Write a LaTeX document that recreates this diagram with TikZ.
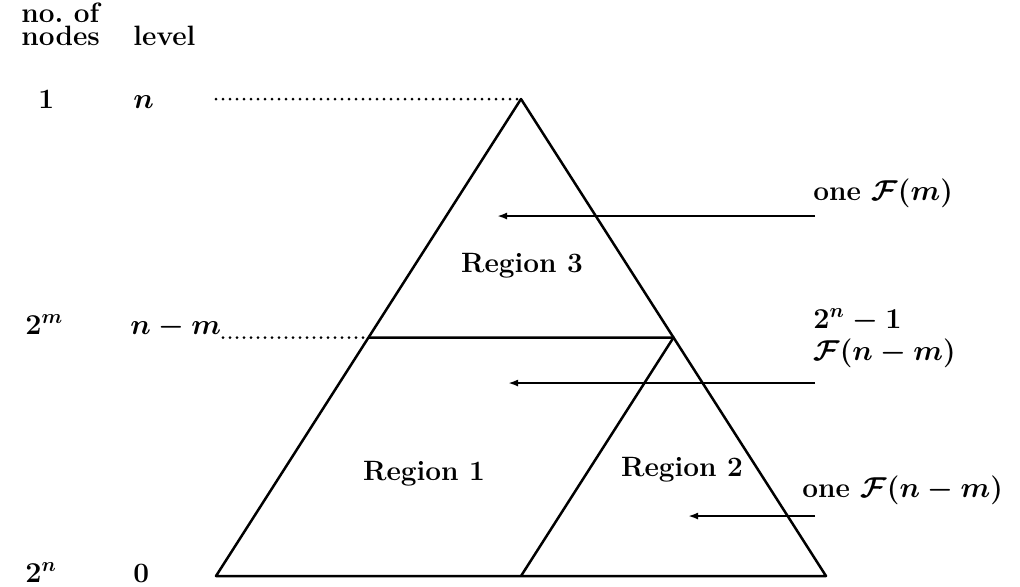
\documentclass[tikz,border=0pt]{standalone}
\usetikzlibrary{arrows.meta}
\begin{document}
\begin{tikzpicture}[x=0.5pt,y=-0.5pt,
  txt/.style={font=\fontsize{14}{15}\selectfont\bfseries\boldmath, inner sep=0pt},
  lbl/.style={txt, anchor=base west},
  reg/.style={txt, anchor=base},
  edge/.style={line width=1.25pt, line join=round},
  dots/.style={line width=1.5pt, line cap=round, dash pattern=on 0pt off 3.5pt},
  ptr/.style={line width=1pt, -{Latex[length=5pt,width=3.5pt]}}]
\useasboundingbox (0,0) rectangle (1020,586);

% vertices of the whole tree and of its parts
\coordinate (top) at (521,99);
\coordinate (bl) at (216,576);
\coordinate (br) at (826,576);
\coordinate (ml) at (368.5,337.5);
\coordinate (mr) at (673.5,337.5);
\coordinate (bm) at (521,576);

\draw[edge] (top) -- (bl) -- (br) -- cycle;
\draw[edge] (ml) -- (mr) -- (bm);

% column headings and level markers
\node[lbl, align=left] (hnodes) at (21,45) {no.\ of\\[-3.5pt]nodes};
\node[lbl] (hlevel) at (133,45) {level};
\node[lbl] (c1) at (38,108) {1};
\node[lbl] (ln) at (133,108) {$n$};
\node[lbl] (c2m) at (25,334) {$2^m$};
\node[lbl] (lnm) at (130,334) {$n-m$};
\node[lbl] (c2n) at (25,582) {$2^n$};
\node[lbl] (l0) at (133,582) {0};

\coordinate (d1) at (216,99);
\coordinate (d2) at (223,337.5);
\draw[dots] (d1) -- (top);
\draw[dots] (d2) -- (ml);

% region names
\node[reg] (r3) at (522,272) {Region 3};
\node[reg] (r1) at (424,480) {Region 1};
\node[reg] (r2) at (682,476) {Region 2};

% cost annotations on the right
\node[lbl] (a1) at (813,200) {one $\mathcal{F}(m)$};
\node[lbl] (a2) at (813,328) {$2^n-1$};
\node[lbl] (a3) at (813,360) {$\mathcal{F}(n-m)$};
\node[lbl] (a4) at (802,497) {one $\mathcal{F}(n-m)$};

\coordinate (s1) at (815,216); \coordinate (e1) at (497,216);
\coordinate (s2) at (815,383); \coordinate (e2) at (508,383);
\coordinate (s3) at (815,516); \coordinate (e3) at (688,516);
\draw[ptr] (s1) -- (e1);
\draw[ptr] (s2) -- (e2);
\draw[ptr] (s3) -- (e3);
\end{tikzpicture}
\end{document}
